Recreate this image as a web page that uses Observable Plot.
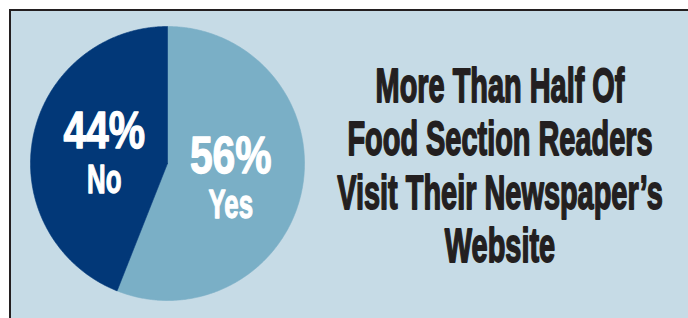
<!DOCTYPE html>
<html><head><meta charset="utf-8">
<script src="https://cdn.jsdelivr.net/npm/d3@7"></script>
<script src="https://cdn.jsdelivr.net/npm/@observablehq/plot@0.6"></script>
<style>
html,body{margin:0;padding:0;background:#fff;width:688px;height:318px;overflow:hidden;}
#frame{position:absolute;left:9px;top:9px;width:679px;height:309px;box-sizing:border-box;background:#c6dbe6;border-top:2px solid #231f20;border-left:2px solid #231f20;}
#chart,#title{position:absolute;left:0;top:0;}
</style></head><body>
<div id="frame"></div><div id="chart"></div><svg id="title" width="688" height="318"></svg>
<script>
// ---- data ----
const categories = ["Yes", "No"];
const shares = [56, 44];
const shareLabels = ["56%", "44%"];
const titleLines = ["More Than Half Of", "Food Section Readers", "Visit Their Newspaper\u2019s", "Website"];

// ---- layout / style ----
const W = 688, H = 318, CX = 167, CY = 163, R = 137;
const colors = {Yes: "#7aafc6", No: "#023878"};
const FONT = "Liberation Sans, Arial, sans-serif";

const slices = d3.pie().sort(null)(shares).map((d, i) => ({...d, category: categories[i], pct: shareLabels[i]}));
const outline = [];
for (const s of slices) {
  outline.push({category: s.category, u: 0, v: 0});
  const n = Math.ceil((s.endAngle - s.startAngle) / (Math.PI / 360));
  for (let k = 0; k <= n; k++) {
    const a = s.startAngle + (s.endAngle - s.startAngle) * k / n;
    outline.push({category: s.category, u: Math.sin(a), v: Math.cos(a)});
  }
  outline.push({category: s.category, u: 0, v: 0});
}
const rl = 0.47;
const labels = slices.map(s => {
  const m = (s.startAngle + s.endAngle) / 2;
  return {category: s.category, pct: s.pct, u: Math.sin(m) * rl, v: Math.cos(m) * rl};
});

const plot = Plot.plot({
  width: W, height: H, margin: 0,
  x: {domain: [-CX / R, (W - CX) / R], axis: null},
  y: {domain: [-(H - CY) / R, CY / R], axis: null},
  style: {background: "transparent", overflow: "visible"},
  marks: [
    ...categories.map(c => Plot.line(outline.filter(d => d.category === c), {
      x: "u", y: "v", fill: colors[c], stroke: colors[c], strokeWidth: 0.6, curve: "linear"
    })),
    Plot.text(labels, {x: "u", y: "v", text: "pct", fill: "white", stroke: "white", strokeWidth: 1.3,
      fontSize: 51, fontWeight: "bold", fontFamily: FONT, lineAnchor: "bottom", dy: -3}),
    Plot.text(labels, {x: "u", y: "v", text: "category", fill: "white", stroke: "white", strokeWidth: 1.3,
      fontSize: 41, fontWeight: "bold", fontFamily: FONT, lineAnchor: "bottom", dy: 42})
  ]
});
document.getElementById("chart").appendChild(plot);

// condense the labels horizontally around their anchor
const condense = [0.8, 0.63];
d3.select(plot).selectAll("g[aria-label='text']").each(function(_, gi) {
  d3.select(this).selectAll("text").each(function() {
    const tr = this.getAttribute("transform") || "";
    this.setAttribute("transform", tr + ` scale(${condense[gi]},1)`);
  });
});

// ---- title ----
const tsvg = d3.select("#title");
titleLines.forEach((line, i) => {
  tsvg.append("text")
    .attr("transform", `translate(500,${102 + i * 53.3}) scale(0.59,1)`)
    .attr("text-anchor", "middle")
    .attr("font-family", FONT).attr("font-weight", "bold").attr("font-size", 49)
    .attr("fill", "#231f20").attr("stroke", "#231f20").attr("stroke-width", 1.8)
    .attr("stroke-linejoin", "round")
    .text(line);
});
</script>
</body></html>
